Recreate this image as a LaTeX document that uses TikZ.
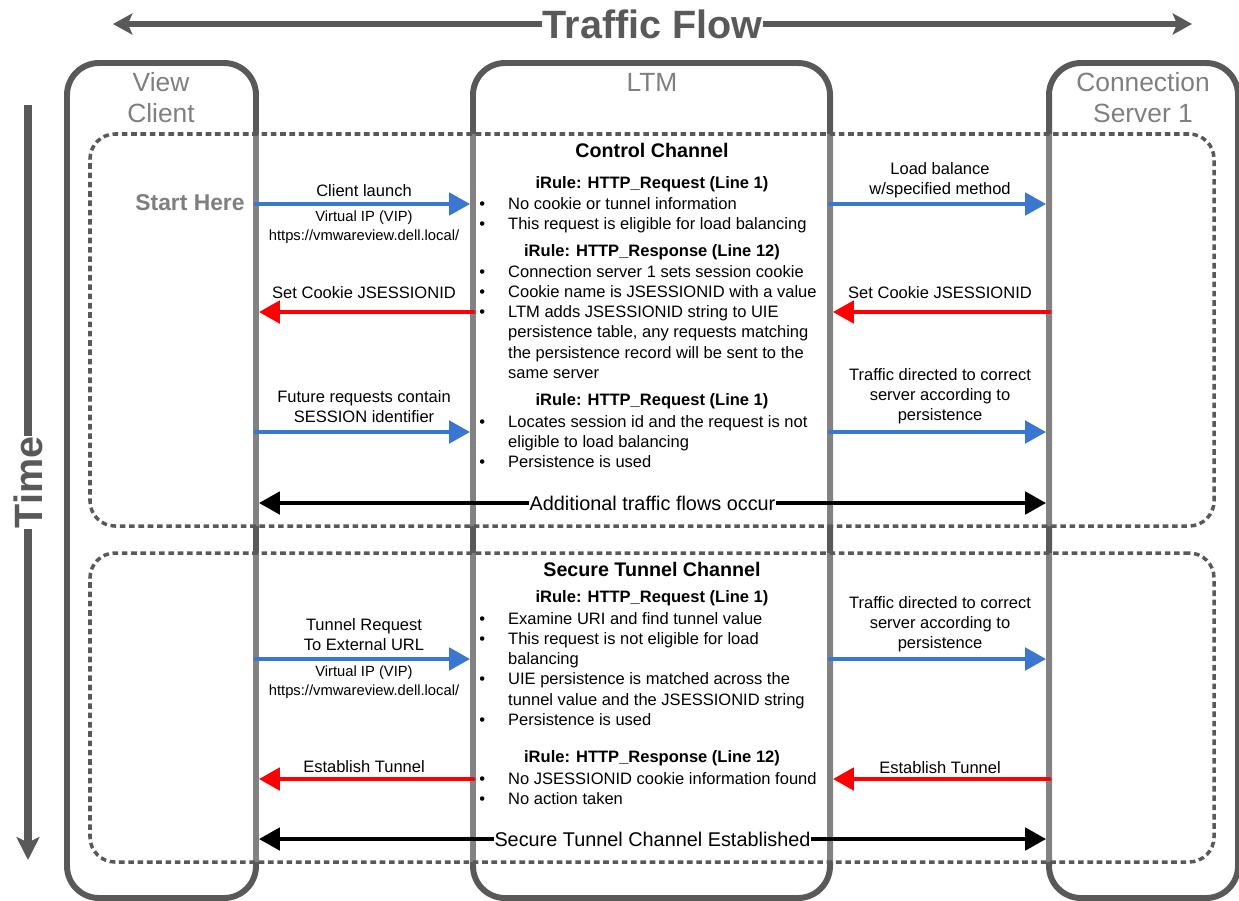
\documentclass[tikz,border=0pt]{standalone}
\usepackage{fontspec}
\setmainfont{Liberation Sans}
\usetikzlibrary{arrows.meta,positioning,fit,calc}
\definecolor{darkgr}{HTML}{595959}
\definecolor{lightgr}{HTML}{7F7F7F}
\definecolor{reqblue}{HTML}{3A77D1}
\definecolor{respred}{HTML}{FF0000}
\newcommand{\bul}{\makebox[16.4pt][l]{\textbullet}}
\newcommand{\cont}{\hspace*{16.4pt}}

\begin{document}
\begin{tikzpicture}[x=0.02cm,y=-0.02cm,
  lane/.style={draw=darkgr,line width=3.4pt,rounded corners=0.64cm,inner sep=0pt,outer sep=0pt},
  phase/.style={draw=darkgr,line width=2pt,dash pattern=on 3.2pt off 2.1pt,rounded corners=0.5cm,
    fill=white,fill opacity=0.25,inner sep=0pt},
  lanetitle/.style={text=lightgr,font=\fontsize{15}{17.6}\selectfont,align=center},
  msg/.style={font=\fontsize{9.4}{11.3}\selectfont,align=center,inner sep=0pt},
  vip/.style={font=\fontsize{8.4}{10.8}\selectfont,align=center,inner sep=0pt},
  rule/.style={font=\fontsize{9.4}{11.5}\selectfont\bfseries,inner sep=0pt},
  points/.style={font=\fontsize{9.4}{11.5}\selectfont,align=left,anchor=north west,inner sep=0pt},
  chan/.style={font=\fontsize{11.2}{13}\selectfont\bfseries,inner sep=0pt},
  note/.style={font=\fontsize{11.3}{13}\selectfont,fill=white,inner sep=0.5pt},
  req/.style={draw=reqblue,line width=2.8pt,line cap=round,-{Triangle[length=12pt,width=12.5pt]},shorten >=1.6pt},
  resp/.style={draw=respred,line width=2.8pt,line cap=round,-{Triangle[length=12pt,width=12.5pt]},shorten >=1.6pt},
  flow/.style={draw=black,line width=2.8pt,{Triangle[length=12pt,width=12.5pt]}-{Triangle[length=12pt,width=12.5pt]},
    shorten >=1.6pt,shorten <=1.6pt},
  axis/.style={draw=darkgr,line width=3pt},
  axislabel/.style={text=darkgr,font=\fontsize{22.5}{26}\selectfont\bfseries,fill=white,inner sep=0.5pt}
]
\useasboundingbox (0,0) rectangle (1239,900);
\clip (0,0) rectangle (1239,900);

% the lanes
\node[lane,fit={(67,63) (256,898)}] (vc) {};
\node[lane,fit={(473,63) (830,898)}] (ltm) {};
\node[lane,fit={(1049,63) (1238,898)}] (cs) {};

\node[lanetitle] (vct) at (161,98) {View\\Client};
\node[lanetitle] (ltmt) at (652,82) {LTM};
\node[lanetitle] (cst) at (1143,98) {Connection\\Server 1};

% the two channels
\node[phase,fit={(90,134) (1214,526)}] (ctrl) {};
\node[phase,fit={(90,553) (1214,862)}] (tunnel) {};

% the axes
\coordinate (tfL) at (113,24);
\coordinate (tfR) at (1192,24);
\draw[axis,{Stealth[length=11pt,width=12pt,inset=2.5pt]}-{Stealth[length=11pt,width=12pt,inset=2.5pt]}]
  (tfL) -- node[axislabel] (tf) {Traffic Flow} (tfR);
\coordinate (tT) at (28,105);
\coordinate (tB) at (28,860);
\draw[axis,line width=4pt,-{Stealth[length=13pt,width=13pt,inset=3pt]}]
  (tT) -- node[axislabel,rotate=90] (time) {Time} (tB);

\node[text=lightgr,font=\fontsize{13}{15}\selectfont\bfseries] (start) at (190,203) {Start Here};

% control channel, LTM
\node[chan] (cc) at (652,150) {Control Channel};
\node[rule] (r1) at (652,184) {iRule: HTTP\_Request (Line 1)};
\node[points] (p1) at (479,197) {\bul No cookie or tunnel information\\
  \bul This request is eligible for load balancing};
\node[rule] (r2) at (652,252) {iRule: HTTP\_Response (Line 12)};
\node[points] (p2) at (479,265) {\bul Connection server 1 sets session cookie\\
  \bul Cookie name is JSESSIONID with a value\\
  \bul LTM adds JSESSIONID string to UIE\\
  \cont persistence table, any requests matching\\
  \cont the persistence record will be sent to the\\
  \cont same server};
\node[rule] (r3) at (652,401) {iRule: HTTP\_Request (Line 1)};
\node[points] (p3) at (479,415) {\bul Locates session id and the request is not\\
  \cont eligible to load balancing\\
  \bul Persistence is used};

% control channel, messages
\node[msg] (m1) at (364,191) {Client launch};
\node[vip] (v1) at (364,227) {Virtual IP (VIP)\\https://vmwareview.dell.local/};
\node[msg] (m2) at (940,180) {Load balance\\w/specified method};
\node[msg] (m3) at (940,293) {Set Cookie JSESSIONID};
\node[msg] (m4) at (364,293) {Set Cookie JSESSIONID};
\node[msg] (m5) at (364,407) {Future requests contain\\SESSION identifier};
\node[msg] (m6) at (940,396) {Traffic directed to correct\\server according to\\persistence};

\draw[req] (vc.east |- 0,204) -- (ltm.west |- 0,204);
\draw[req] (ltm.east |- 0,204) -- (cs.west |- 0,204);
\draw[resp] (cs.west |- 0,312) -- (ltm.east |- 0,312);
\draw[resp] (ltm.west |- 0,312) -- (vc.east |- 0,312);
\draw[req] (vc.east |- 0,432) -- (ltm.west |- 0,432);
\draw[req] (ltm.east |- 0,432) -- (cs.west |- 0,432);
\draw[flow] (vc.east |- 0,503) -- node[note] (more) {Additional traffic flows occur} (cs.west |- 0,503);

% secure tunnel channel, LTM
\node[chan] (sc) at (652,569) {Secure Tunnel Channel};
\node[rule] (r4) at (652,598) {iRule: HTTP\_Request (Line 1)};
\node[points] (p4) at (479,612) {\bul Examine URI and find tunnel value\\
  \bul This request is not eligible for load\\
  \cont balancing\\
  \bul UIE persistence is matched across the\\
  \cont tunnel value and the JSESSIONID string\\
  \bul Persistence is used};
\node[rule] (r5) at (652,758) {iRule: HTTP\_Response (Line 12)};
\node[points] (p5) at (479,772) {\bul No JSESSIONID cookie information found\\
  \bul No action taken};

% secure tunnel channel, messages
\node[msg] (m7) at (364,635) {Tunnel Request\\To External URL};
\node[vip] (v2) at (364,682) {Virtual IP (VIP)\\https://vmwareview.dell.local/};
\node[msg] (m8) at (940,624) {Traffic directed to correct\\server according to\\persistence};
\node[msg] (m9) at (940,768) {Establish Tunnel};
\node[msg] (m10) at (364,767) {Establish Tunnel};

\draw[req] (vc.east |- 0,659) -- (ltm.west |- 0,659);
\draw[req] (ltm.east |- 0,659) -- (cs.west |- 0,659);
\draw[resp] (cs.west |- 0,779) -- (ltm.east |- 0,779);
\draw[resp] (ltm.west |- 0,779) -- (vc.east |- 0,779);
\draw[flow] (vc.east |- 0,839) -- node[note] (done) {Secure Tunnel Channel Established} (cs.west |- 0,839);

\end{tikzpicture}
\end{document}
